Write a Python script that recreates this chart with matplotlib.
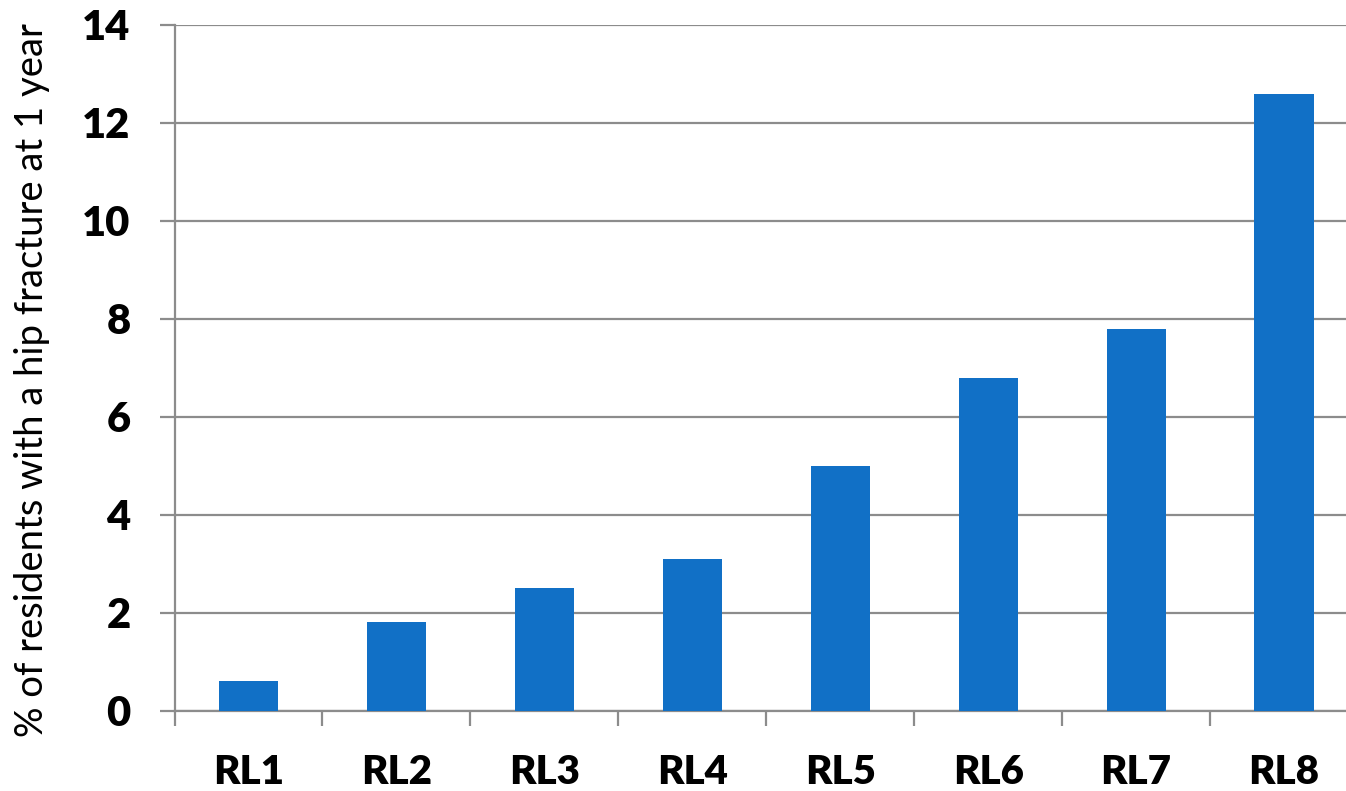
import matplotlib
matplotlib.use("Agg")
import matplotlib.pyplot as plt
import numpy as np

categories = ["RL1", "RL2", "RL3", "RL4", "RL5", "RL6", "RL7", "RL8"]
values = [0.6, 1.8, 2.5, 3.1, 5.0, 6.8, 7.8, 12.6]
y_ticks = [0, 2, 4, 6, 8, 10, 12, 14]
y_label = "% of residents with a hip fracture at 1 year"

plt.rcParams["font.family"] = ["Lato", "DejaVu Sans"]

W, H = 1346, 791
fig = plt.figure(figsize=(W / 100, H / 100), dpi=100)
# axes extends slightly past the right edge of the figure
left, right, top, bottom = 174.5, 1358, 25, 710.5
ax = fig.add_axes([left / W, 1 - bottom / H, (right - left) / W, (bottom - top) / H])

grid_color = "#8c8c8c"
px = 72 / 100  # points per pixel
x = np.arange(len(categories))
ax.bar(x, values, width=0.4, color="#1170c6", zorder=3)

ax.set_xlim(-0.5, len(categories) - 0.5)
ax.set_ylim(0, 14)
ax.set_yticks(y_ticks)
ax.set_yticklabels([str(t) for t in y_ticks], fontsize=30, fontweight="heavy")
ax.yaxis.grid(True, color=grid_color, linewidth=1.6, zorder=0)
ax.tick_params(axis="y", length=15 * px, width=1.6, color=grid_color, pad=29 * px)

# category boundary ticks with labels centred under each bar
ax.set_xticks(np.arange(len(categories) + 1) - 0.5)
ax.set_xticklabels([])
ax.set_xticks(x, minor=True)
ax.set_xticklabels(categories, minor=True, fontsize=29, fontweight="heavy")
ax.tick_params(axis="x", which="major", length=15 * px, width=1.6, color=grid_color)
ax.tick_params(axis="x", which="minor", length=0, pad=44 * px)

for side in ["top", "right"]:
    ax.spines[side].set_visible(False)
for side in ["left", "bottom"]:
    ax.spines[side].set_color(grid_color)
    ax.spines[side].set_linewidth(1.6)

fig.text(32 / W, 1 - 380 / H, y_label, rotation=90, ha="center", va="center", fontsize=27.5)

fig.savefig("out.png", dpi=100)
